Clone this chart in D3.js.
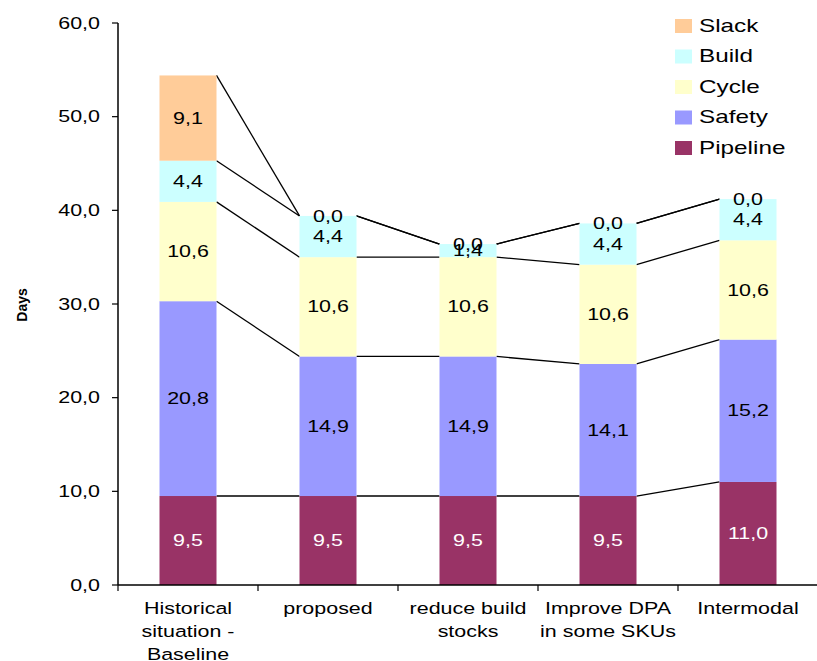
<!DOCTYPE html>
<html>
<head>
<meta charset="utf-8">
<script src="https://cdn.jsdelivr.net/npm/d3@7"></script>
<style>
  body { margin: 0; background: #fff; }
  text { font-family: "Liberation Sans", Arial, sans-serif; }
</style>
</head>
<body>
<div id="chart"></div>
<script>
// categories and stacked series (bottom to top)
var categories = [
    ["Historical", "situation -", "Baseline"],
    ["proposed"],
    ["reduce build", "stocks"],
    ["Improve DPA", "in some SKUs"],
    ["Intermodal"]
];
var seriesNames = ["Pipeline", "Safety", "Cycle", "Build", "Slack"];
var pipeline = [9.5, 9.5, 9.5, 9.5, 11.0];
var safety   = [20.8, 14.9, 14.9, 14.1, 15.2];
var cycle    = [10.6, 10.6, 10.6, 10.6, 10.6];
var build    = [4.4, 4.4, 1.4, 4.4, 4.4];
var slack    = [9.1, 0.0, 0.0, 0.0, 0.0];
var yTicks   = [0, 10, 20, 30, 40, 50, 60];

var colors = {
    Pipeline: "#993366",
    Safety: "#9999FF",
    Cycle: "#FFFFCC",
    Build: "#CCFFFF",
    Slack: "#FFCC99"
};

var width = 817, height = 661;
var plotLeft = 118, plotRight = 818, plotTop = 23, plotBottom = 585;

var svg = d3.select("#chart")
    .append("svg")
    .attr("width", width)
    .attr("height", height)

var keys = categories.map(function(c, i) { return "c" + i })
var rows = keys.map(function(k, i) {
    return { key: k, Pipeline: pipeline[i], Safety: safety[i], Cycle: cycle[i], Build: build[i], Slack: slack[i] }
})
var stacked = d3.stack().keys(seriesNames)(rows)

var x = d3.scaleBand().domain(keys).range([plotLeft, plotRight])
var y = d3.scaleLinear().domain([0, 60]).range([plotBottom, plotTop])
var barW = 57
function barX(k) { return x(k) + (x.bandwidth() - barW) / 2 }

// stretched text helper (the original lettering is wide)
function stext(g, tx, ty, str, size, sx, anchor) {
    return g.append("text")
        .attr("transform", "translate(" + tx + "," + ty + ") scale(" + sx + ",1)")
        .attr("text-anchor", anchor || "middle")
        .attr("dominant-baseline", "central")
        .style("font-size", size + "px")
        .text(str)
}

// series lines between bars
stacked.forEach(function(s) {
    for (var i = 0; i < keys.length - 1; i++) {
        svg.append("line")
            .attr("x1", barX(keys[i]) + barW)
            .attr("y1", y(s[i][1]))
            .attr("x2", barX(keys[i + 1]))
            .attr("y2", y(s[i + 1][1]))
            .attr("stroke", "#000")
            .attr("stroke-width", 1.3)
    }
})

// bars
stacked.forEach(function(s) {
    svg.append("g").selectAll("rect")
        .data(s)
        .join("rect")
        .attr("x", function(d) { return barX(d.data.key) })
        .attr("width", barW)
        .attr("y", function(d) { return y(d[1]) })
        .attr("height", function(d) { return y(d[0]) - y(d[1]) })
        .attr("fill", colors[s.key])
})

// value labels
var labels = svg.append("g")
stacked.forEach(function(s) {
    s.forEach(function(d) {
        var v = d[1] - d[0]
        var t = stext(labels, barX(d.data.key) + barW / 2, y((d[0] + d[1]) / 2),
            d3.format(".1f")(v).replace(".", ","), 16.5, 1.3)
        t.attr("fill", s.key == "Pipeline" ? "#fff" : "#000")
    })
})

// y axis
var yAxis = svg.append("g")
yAxis.append("line")
    .attr("x1", plotLeft).attr("x2", plotLeft)
    .attr("y1", plotTop).attr("y2", plotBottom)
    .attr("stroke", "#000").attr("stroke-width", 1.5)
yTicks.forEach(function(t) {
    yAxis.append("line")
        .attr("x1", plotLeft - 6).attr("x2", plotLeft)
        .attr("y1", y(t)).attr("y2", y(t))
        .attr("stroke", "#000").attr("stroke-width", 1.2)
    stext(yAxis, 100, y(t), d3.format(".1f")(t).replace(".", ","), 16.5, 1.3, "end")
})

svg.append("text")
    .attr("transform", "translate(22,305) rotate(-90)")
    .attr("text-anchor", "middle")
    .attr("dominant-baseline", "central")
    .style("font-family", "'Liberation Sans Narrow', 'Liberation Sans', sans-serif")
    .style("font-weight", "bold")
    .style("font-size", "14px")
    .text("Days")

// x axis
var xAxis = svg.append("g")
xAxis.append("line")
    .attr("x1", plotLeft).attr("x2", width)
    .attr("y1", plotBottom).attr("y2", plotBottom)
    .attr("stroke", "#000").attr("stroke-width", 1.5)
keys.forEach(function(k, i) {
    xAxis.append("line")
        .attr("x1", x(k)).attr("x2", x(k))
        .attr("y1", plotBottom).attr("y2", plotBottom + 6)
        .attr("stroke", "#000").attr("stroke-width", 1.2)
    categories[i].forEach(function(line, j) {
        stext(xAxis, x(k) + x.bandwidth() / 2, 608 + j * 23, line, 16.5, 1.3)
    })
})

// legend (top to bottom: Slack ... Pipeline)
var legend = svg.append("g")
seriesNames.slice().reverse().forEach(function(name, i) {
    var cy = 26 + i * 30.5
    legend.append("rect")
        .attr("x", 675).attr("y", cy - 7)
        .attr("width", 17).attr("height", 14)
        .attr("fill", colors[name])
    stext(legend, 699, cy, name, 18, 1.35, "start")
})
</script>
</body>
</html>
